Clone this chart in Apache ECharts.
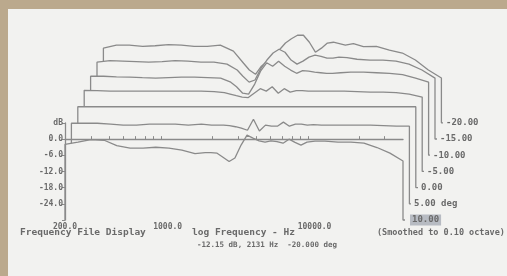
<!DOCTYPE html>
<html>
<head>
<meta charset="utf-8">
<script src="https://cdn.jsdelivr.net/npm/echarts@6/dist/echarts.min.js"></script>
<style>
  html, body { margin: 0; padding: 0; background: #bba98d; overflow: hidden; }
  #paper { position: absolute; left: 8px; top: 9px; width: 499px; height: 267px; background: #f2f2f0; }
  #chart { position: absolute; left: 0; top: 0; width: 507px; height: 276px; filter: blur(0.35px); }
</style>
</head>
<body>
<div id="paper"></div>
<div id="chart"></div>
<script>
// frequency points (Hz), shared by every trace
const FREQ = [200, 245, 300, 370, 450, 555, 680, 830, 1020, 1250, 1535, 1800, 1970, 2170, 2380, 2620,
  2870, 3160, 3470, 3810, 4190, 4600, 5050, 5550, 6100, 6700, 7360, 8080, 8880, 10070, 11780, 14440,
  17700, 21700, 26600, 32600, 40000];

// dB, front trace first
const deg10 = [-1.9, -1.1, -0.2, -0.4, -2.4, -3.3, -3.3, -3.0, -3.3, -4.1, -5.4, -5.0, -5.0, -5.2, -6.7, -8.3,
  -7.0, -2.2, 1.5, 0.4, -0.6, -1.1, -0.6, -0.9, -1.5, 0.0, -1.2, -2.2, -1.1, -0.7, -0.7, -1.1,
  -1.1, -1.5, -3.1, -5.2, -8.1];
const deg5 = [-0.1, -0.1, -0.1, -0.4, -0.8, -0.8, -0.4, -0.4, -0.4, -0.8, -0.4, -0.8, -0.8, -0.8, -1.0, -1.4,
  -1.9, -2.7, 1.4, -3.0, -0.8, -1.2, -1.2, 0.3, -1.2, -0.4, -0.4, -0.8, -0.6, -0.8, -0.8, -0.8,
  -0.8, -0.8, -1.0, -1.2, -1.2];
const deg0 = [0, 0, 0, 0, 0, 0, 0, 0, 0, 0, 0, 0, 0, 0, 0, 0,
  0, 0, 0, 0, 0, 0, 0, 0, 0, 0, 0, 0, 0, 0, 0, 0,
  0, 0, 0, 0, 0];
const degM5 = [0.1, 0, -0.2, -0.2, -0.2, -0.2, -0.2, -0.2, -0.2, -0.2, -0.4, -0.8, -1.3, -1.9, -2.4, -2.6,
  -1.0, 0.7, -0.2, 1.4, -1.0, 0.7, -0.6, 0, 0, -0.2, -0.2, -0.2, -0.2, -0.2, -0.2, -0.4,
  -0.6, -0.6, -0.8, -1.3, -2.4];
const degM10 = [-0.7, -0.7, -0.9, -1.0, -1.2, -1.4, -1.2, -1.0, -1.0, -1.2, -1.4, -2.9, -4.6, -7.0, -7.3, -3.6,
  1.2, 4.3, 3.0, 4.9, 3.0, 1.6, 0.4, 1.4, 1.2, 0.8, 0.6, 0.4, 0.4, 0.6, 0.8, 0.8,
  0.6, 0.4, -0.1, -1.4, -2.9];
const degM15 = [-1.5, -0.9, -1.1, -1.3, -1.5, -1.3, -0.9, -1.1, -1.5, -1.5, -2.2, -4.4, -6.7, -8.9, -8.1, -3.7,
  -0.7, 1.9, 3.3, 2.2, -0.7, -2.2, -1.1, 0.4, 1.1, 0.7, 0, 0, 0.4, 0.2, -0.4, -0.7,
  -0.7, -1.1, -2.2, -4.4, -7.4];
const degM20 = [-2.3, -1.2, -1.2, -1.6, -1.4, -1.0, -1.2, -1.6, -1.6, -1.2, -3.4, -7.9, -10.4, -12.0, -9.0, -7.1,
  -4.9, -2.9, -0.4, 1.2, 2.5, 2.5, -0.1, -3.8, -2.3, -0.4, -0.1, -0.6, -1.2, -0.6, -1.7, -1.6,
  -3.0, -4.1, -6.7, -10.4, -13.4];

const TRACES = [deg10, deg5, deg0, degM5, degM10, degM15, degM20];
const TRACE_LABELS = ['10.00', '5.00 deg', '0.00', '-5.00', '-10.00', '-15.00', '-20.00'];

const X_TICKS = [300, 400, 500, 600, 700, 800, 900, 2000, 3000, 4000, 5000, 6000, 7000, 8000, 9000, 20000, 30000];
const Y_MIN = -30, Y_MAX = 6, Y_STEP = 6;
const F_MIN = 200, F_MAX = 40000;

// waterfall offset per trace (px)
const DX = 6.4, DY = 16.2;
const LINE = '#8a8a8a';
const TEXT = '#6a6a6a';
const PAPER = '#f2f2f0';
const MONO = '"DejaVu Sans Mono", monospace';

const chart = echarts.init(document.getElementById('chart'));

const grids = [], xAxes = [], yAxes = [], series = [];
TRACES.forEach((t, k) => {
  grids.push({ left: 65 + DX * k, top: 123 - DY * k, width: 338, height: 97 });
  const front = k === 0;
  xAxes.push({
    type: 'log', logBase: 10, gridIndex: k, min: F_MIN, max: F_MAX, show: front, z: 30,
    axisLine: { lineStyle: { color: LINE, width: 1.3 } },
    axisTick: { inside: true, length: 3, customValues: X_TICKS, lineStyle: { color: LINE } },
    axisLabel: {
      showMaxLabel: false, margin: 3, color: TEXT, fontFamily: MONO, fontSize: 8, fontWeight: 'bold',
      formatter: v => v.toFixed(1)
    },
    splitLine: { show: false }
  });
  yAxes.push({
    type: 'value', gridIndex: k, min: Y_MIN, max: Y_MAX, interval: Y_STEP, show: front, z: 30,
    axisLine: { show: true, lineStyle: { color: LINE, width: 1.3 } },
    axisTick: { show: true, length: 3, lineStyle: { color: LINE } },
    axisLabel: {
      margin: 2, color: TEXT, fontFamily: MONO, fontSize: 8, fontWeight: 'bold',
      formatter: v => v === Y_MAX ? 'dB' : (v === Y_MIN ? '' : v.toFixed(1))
    },
    splitLine: { show: false }
  });
});

// each trace sits on a higher z than the one behind it, so its paper-coloured
// area hides whatever lies under its line
for (let k = TRACES.length - 1; k >= 0; k--) {
  const pts = FREQ.map((f, i) => [f, TRACES[k][i]]);
  const data = [[F_MIN, Y_MIN]].concat(pts, [[F_MAX, Y_MIN], [F_MAX * 1.12, Y_MIN]]);
  series.push({
    type: 'line', xAxisIndex: k, yAxisIndex: k, data: data, z: 3 + (TRACES.length - k) * 2,
    showSymbol: false, clip: false, silent: true,
    lineStyle: { color: LINE, width: 1.3 },
    areaStyle: { color: PAPER, opacity: 1, origin: 'start' },
    endLabel: {
      show: true, distance: k === 0 ? 5 : 3, formatter: TRACE_LABELS[k],
      color: TEXT, fontFamily: MONO, fontSize: 9, fontWeight: 'bold',
      backgroundColor: k === 0 ? '#b7bbc2' : 'transparent', padding: k === 0 ? [1, 2] : 0
    }
  });
}

chart.setOption({
  animation: false,
  grid: grids,
  xAxis: xAxes,
  yAxis: yAxes,
  series: series,
  graphic: [
    { type: 'text', left: 20, top: 228, style: { text: 'Frequency File Display', font: 'bold 9.5px ' + MONO, fill: TEXT } },
    { type: 'text', left: 192, top: 228, style: { text: 'log Frequency - Hz', font: 'bold 9.5px ' + MONO, fill: TEXT } },
    { type: 'text', left: 377, top: 228, style: { text: '(Smoothed to 0.10 octave)', font: 'bold 8.5px ' + MONO, fill: TEXT } },
    { type: 'text', left: 197, top: 241, style: { text: '-12.15 dB, 2131 Hz  -20.000 deg', font: 'bold 7.5px ' + MONO, fill: TEXT } }
  ]
});
</script>
</body>
</html>
